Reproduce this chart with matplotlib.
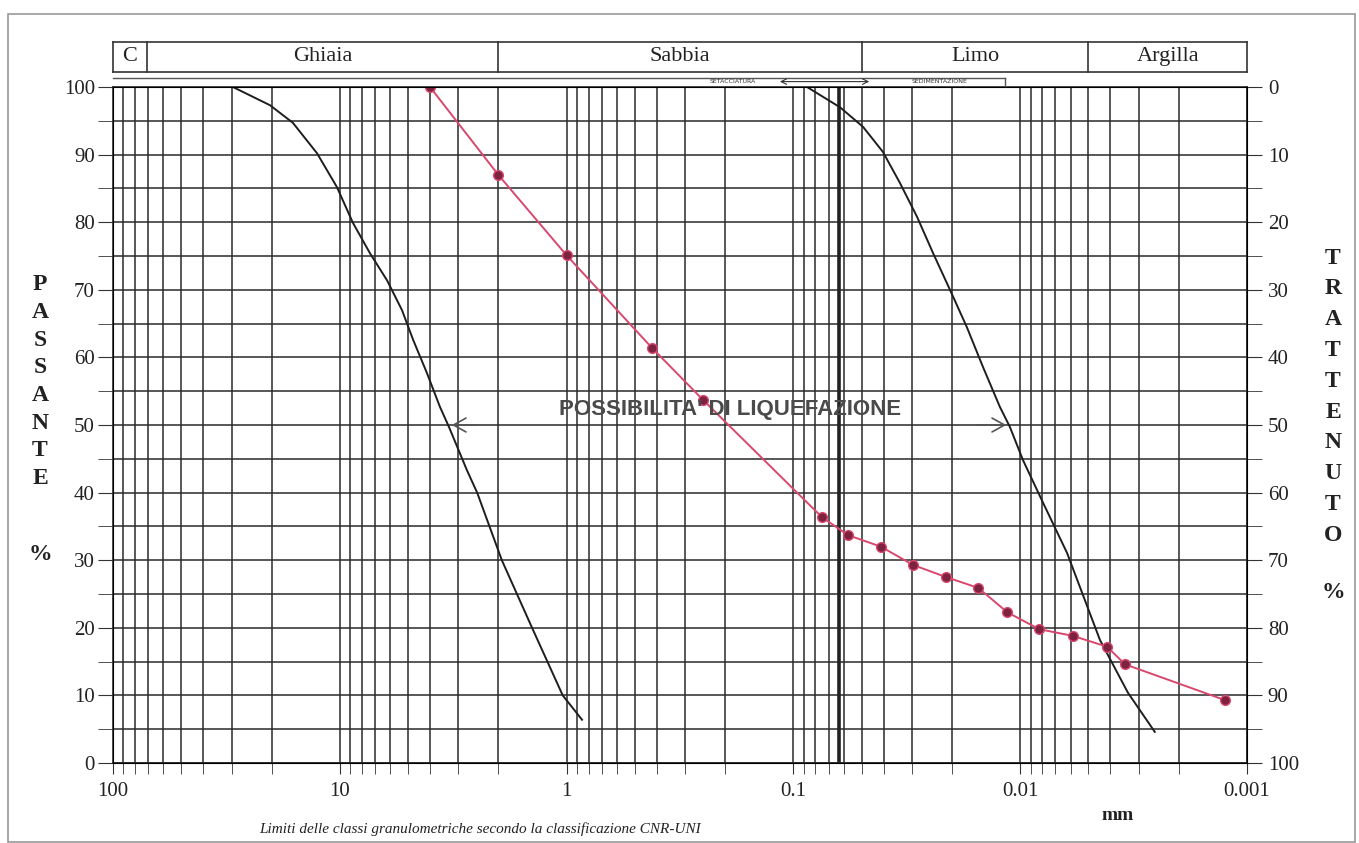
import numpy as np
import matplotlib
matplotlib.use('Agg')
import matplotlib.pyplot as plt
from matplotlib.ticker import FixedLocator, NullFormatter
from matplotlib.patches import Rectangle

plt.rcParams['font.family'] = ['Liberation Serif', 'DejaVu Serif']

# sample curve (diametro mm, passante %)
d_sample = [4.0, 2.0, 1.0, 0.42, 0.25, 0.075, 0.0574, 0.0411, 0.0297, 0.0212,
            0.0153, 0.0114, 0.00826, 0.00585, 0.00414, 0.00345, 0.00125]
p_sample = [100, 87.0, 75.1, 61.4, 53.7, 36.4, 33.7, 32.0, 29.3, 27.5,
            25.9, 22.3, 19.8, 18.8, 17.2, 14.6, 9.3]

# boundary curves of the liquefaction zone
d_left = [29.6, 20.3, 16.1, 12.6, 10.3, 8.75, 7.36, 6.19, 5.32, 4.75, 4.13,
          3.62, 3.30, 2.75, 2.48, 1.93, 1.42, 1.04, 0.855]
p_left = [100, 97.3, 94.7, 90.2, 85.2, 79.9, 75.4, 71.4, 67.0, 62.6, 57.7,
          52.7, 49.7, 43.3, 40, 30, 20, 10, 6.4]
d_right = [0.0871, 0.0623, 0.0493, 0.0403, 0.0339, 0.0285, 0.0242, 0.0204,
           0.0172, 0.0146, 0.0123, 0.0111, 0.00972, 0.00793, 0.00622,
           0.00445, 0.00335, 0.00255]
p_right = [100, 97, 94.1, 90.4, 85.8, 80.8, 75.4, 70.0, 64.5, 58.6, 52.7,
           49.7, 44.8, 38.5, 31.1, 18.2, 10.4, 4.6]

# classi granulometriche
class_bounds = [100, 71, 2, 0.05, 0.005, 0.001]
class_names = ['C', 'Ghiaia', 'Sabbia', 'Limo', 'Argilla']

x_ticks = [100, 10, 1, 0.1, 0.01, 0.001]
x_labels = ['100', '10', '1', '0.1', '0.01', '0.001']

W, H = 1359, 843


def fx(px):
    return px / W


def fy(py):
    return 1 - py / H


fig = plt.figure(figsize=(13.59, 8.43), dpi=100)
fig.patches.append(Rectangle((fx(8), fy(842)), fx(1347), (842 - 14) / H,
                             transform=fig.transFigure, fill=False, ec='#999', lw=1.2))

ax = fig.add_axes([fx(113), fy(763), fx(1247 - 113), fy(87) - fy(763)])
ax.set_xscale('log')
ax.set_xlim(100, 0.001)
ax.set_ylim(0, 100)

minor = [m * 10.0 ** e for e in range(-3, 2) for m in range(2, 10)]
ax.xaxis.set_major_locator(FixedLocator(x_ticks))
ax.xaxis.set_minor_locator(FixedLocator(minor))
ax.xaxis.set_minor_formatter(NullFormatter())
ax.set_xticklabels(x_labels)
ax.set_yticks(np.arange(0, 101, 10))
ax.set_yticks(np.arange(0, 101, 5), minor=True)

ax.grid(True, which='both', color='#2a2a2a', lw=1.1)
ax.axvline(0.063, color='#222', lw=2.6)
ax.tick_params(axis='x', which='both', direction='out', length=8, color='#333',
               labelsize=15, pad=6, labelcolor='#222')
ax.tick_params(axis='y', which='both', direction='out', length=11, color='#333',
               labelsize=15, pad=2, labelcolor='#222')
for s in ax.spines.values():
    s.set_color('#2a2a2a')
    s.set_linewidth(1.2)

ax2 = ax.twinx()
ax2.set_ylim(100, 0)
ax2.set_yticks(np.arange(0, 101, 10))
ax2.set_yticks(np.arange(0, 101, 5), minor=True)
ax2.tick_params(axis='y', which='both', direction='out', length=11, color='#333',
                labelsize=15, pad=4, labelcolor='#222')

ax.plot(d_left, p_left, color='#1e1e1e', lw=1.4, zorder=3)
ax.plot(d_right, p_right, color='#1e1e1e', lw=1.4, zorder=3)
ax.plot(d_sample, p_sample, '-o', color='#d8486e', lw=1.4, ms=7,
        mfc='#7d2240', mec='#d8486e', mew=1.0, zorder=4)

ax.text(0.19, 52.3, "POSSIBILITA' DI LIQUEFAZIONE", ha='center', va='center',
        fontsize=16, fontweight='bold', color='#4a4a4a', family='Liberation Sans',
        zorder=5)
ax.annotate('', xy=(3.3, 50), xytext=(2.4, 50),
            arrowprops=dict(arrowstyle='->,head_length=0.9,head_width=0.5',
                            color='#555', lw=1.2), zorder=5)
ax.annotate('', xy=(0.0112, 50), xytext=(0.016, 50),
            arrowprops=dict(arrowstyle='->,head_length=0.9,head_width=0.5',
                            color='#555', lw=1.2), zorder=5)

# header with the grain size classes
axh = fig.add_axes([fx(113), fy(86), fx(1247 - 113), fy(42) - fy(86)])
axh.set_xscale('log')
axh.set_xlim(100, 0.001)
axh.set_ylim(0, 1)
axh.axis('off')
ytop, ybot = 1.0, 0.32
axh.plot([100, 0.001], [ytop, ytop], color='#333', lw=1.2, clip_on=False)
axh.plot([100, 0.001], [ybot, ybot], color='#333', lw=1.2, clip_on=False)
for b in class_bounds:
    axh.plot([b, b], [ybot, ytop], color='#333', lw=1.2, clip_on=False)
for i, name in enumerate(class_names):
    xc = np.sqrt(class_bounds[i] * class_bounds[i + 1])
    axh.text(xc, (ytop + ybot) / 2, name, ha='center', va='center',
             fontsize=16, color='#222')
axh.plot([100, 0.0117], [0.19, 0.19], color='#555', lw=1.0, clip_on=False)
axh.plot([0.0117, 0.0117], [0, 0.19], color='#555', lw=1.0, clip_on=False)
axh.text(0.185, 0.1, 'SETACCIATURA', ha='center', va='center', fontsize=4.5,
         family='DejaVu Sans', color='#333')
axh.text(0.0226, 0.1, 'SEDIMENTAZIONE', ha='center', va='center', fontsize=4.5,
         family='DejaVu Sans', color='#333')
axh.annotate('', xy=(0.118, 0.1), xytext=(0.045, 0.1),
             arrowprops=dict(arrowstyle='<->', color='#333', lw=0.8))

# side labels
for i, ch in enumerate('PASSANTE'):
    fig.text(fx(40), fy(285 + i * 27.6), ch, ha='center', va='center',
             fontsize=17, fontweight='bold', color='#222')
fig.text(fx(40), fy(555), '%', ha='center', va='center', fontsize=17,
         fontweight='bold', color='#222')
for i, ch in enumerate('TRATTENUTO'):
    fig.text(fx(1333), fy(258 + i * 30.8), ch, ha='center', va='center',
             fontsize=17, fontweight='bold', color='#222')
fig.text(fx(1333), fy(592), '%', ha='center', va='center', fontsize=17,
         fontweight='bold', color='#222')

fig.text(fx(1118), fy(815), 'mm', ha='center', va='center', fontsize=14,
         fontweight='bold', color='#222')
fig.text(fx(480), fy(829), 'Limiti delle classi granulometriche secondo la classificazione CNR-UNI',
         ha='center', va='center', fontsize=11, style='italic', color='#222')

fig.savefig('out.png', dpi=100)
